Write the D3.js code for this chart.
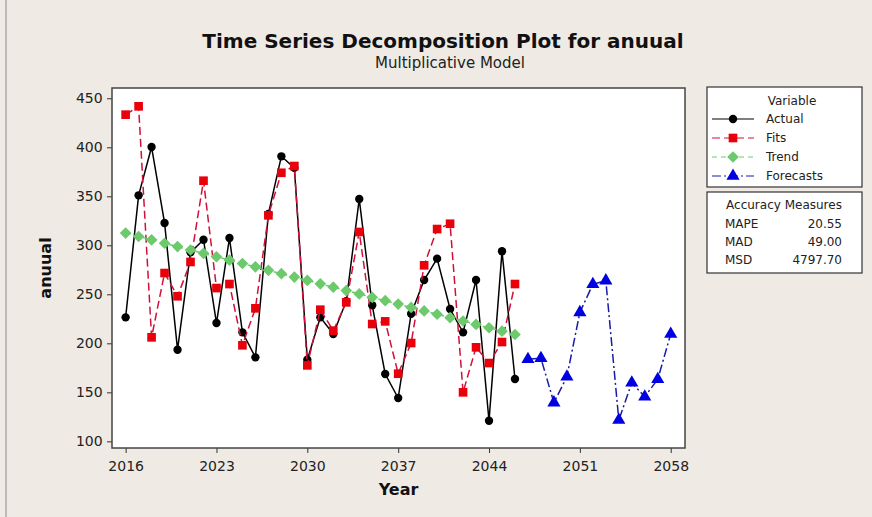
<!DOCTYPE html>
<html>
<head>
<meta charset="utf-8">
<script src="https://cdn.jsdelivr.net/npm/d3@7"></script>
<style>
  body { margin: 0; background: #efebe4; }
  text { font-family: "DejaVu Sans", Verdana, sans-serif; }
</style>
</head>
<body>
<div class="chart"></div>
<script>
// data
var years = d3.range(2016, 2047);
var forecastYears = d3.range(2047, 2059);

var actual = [226.5, 351, 400.3, 322.8, 193.5, 292.8, 305.7, 220.7, 307.4, 211.2,
  185.7, 332, 390.8, 379, 183.3, 226.5, 209.5, 243, 347.2, 238.8,
  168.7, 144.2, 230.2, 264.6, 286.4, 235, 211.2, 264.6, 121, 293.9, 163.6];

var fits = [433.3, 441.8, 206.1, 271.7, 248, 283, 365.9, 256.4, 260.5, 198,
  235.7, 330.6, 374, 380.9, 177.5, 234.3, 212.9, 241.8, 313.6, 219.7,
  222.4, 169, 200.3, 279.6, 316.6, 322, 150, 195.9, 179.9, 201.3, 260.5];

var trend = [312.5, 309.0, 305.6, 302.1, 298.7, 295.2, 291.8, 288.3, 284.9, 281.4,
  278.0, 274.5, 271.1, 267.6, 264.2, 260.7, 257.3, 253.8, 250.4, 246.9,
  243.5, 240.0, 236.6, 233.1, 229.7, 226.2, 222.8, 219.3, 215.9, 212.4, 209.0];

var forecasts = [183.7, 184.7, 139.4, 165.9, 231.6, 260.2, 263.9, 121.7, 159.8, 145.5, 163.3, 209.5];

var xTicks = [2016, 2023, 2030, 2037, 2044, 2051, 2058];
var yTicks = [100, 150, 200, 250, 300, 350, 400, 450];

var accuracyLabels = ["MAPE", "MAD", "MSD"];
var accuracyValues = ["20.55", "49.00", "4797.70"];

var svgWidth = 872;
var svgHeight = 517;

var margin = { top: 88, right: 187, bottom: 69, left: 112 };
var width = svgWidth - margin.left - margin.right;
var height = svgHeight - margin.top - margin.bottom;

var svg = d3.select(".chart")
  .append("svg")
  .attr("width", svgWidth)
  .attr("height", svgHeight);

// outer frame line on the left
svg.append("line")
  .attr("x1", 6).attr("x2", 6)
  .attr("y1", 0).attr("y2", svgHeight)
  .attr("stroke", "#8a8a8a")
  .attr("stroke-width", 1);

// titles
svg.append("text")
  .attr("x", 443).attr("y", 48)
  .attr("text-anchor", "middle")
  .attr("font-size", 20)
  .attr("font-weight", "bold")
  .attr("fill", "#111")
  .text("Time Series Decomposition Plot for anuual");

svg.append("text")
  .attr("x", 450).attr("y", 68)
  .attr("text-anchor", "middle")
  .attr("font-size", 15)
  .attr("fill", "#222")
  .text("Multiplicative Model");

var chartGroup = svg.append("g")
  .attr("transform", `translate(${margin.left}, ${margin.top})`);

// scales
var xScale = d3.scaleLinear()
  .domain([2014.95, 2059.1])
  .range([0, width]);

var yScale = d3.scaleLinear()
  .domain([93.2, 460.5])
  .range([height, 0]);

// plot background
chartGroup.append("rect")
  .attr("width", width)
  .attr("height", height)
  .attr("fill", "white");

// axes
var bottomAxis = d3.axisBottom(xScale).tickValues(xTicks).tickFormat(d3.format("d")).tickSize(5).tickSizeOuter(0);
var leftAxis = d3.axisLeft(yScale).tickValues(yTicks).tickSize(5).tickSizeOuter(0);

var xAxis = chartGroup.append("g")
  .attr("transform", `translate(0, ${height})`)
  .call(bottomAxis);

var yAxis = chartGroup.append("g").call(leftAxis);

[xAxis, yAxis].forEach(function(ax) {
  ax.select(".domain").remove();
  ax.selectAll("line").attr("stroke", "#333");
  ax.selectAll("text")
    .attr("font-size", 14)
    .attr("fill", "#222")
    .attr("font-family", "DejaVu Sans, Verdana, sans-serif");
});
xAxis.selectAll("text").attr("dy", "1.05em");
yAxis.selectAll("text").attr("dx", "-0.1em");

// axis titles
svg.append("text")
  .attr("transform", `translate(${margin.left + width / 2}, 495)`)
  .attr("text-anchor", "middle")
  .attr("font-size", 16)
  .attr("font-weight", "bold")
  .attr("fill", "#111")
  .text("Year");

svg.append("text")
  .attr("transform", `translate(51, ${margin.top + height / 2}) rotate(-90)`)
  .attr("text-anchor", "middle")
  .attr("font-size", 16)
  .attr("font-weight", "bold")
  .attr("fill", "#111")
  .text("anuual");

// series (diamond = square turned 45 degrees)
var seriesList = [
  { name: "Actual", x: years, y: actual, stroke: "#000", fill: "#000", dash: null, symbol: d3.symbolCircle, size: 55, rot: 0 },
  { name: "Fits", x: years, y: fits, stroke: "#d0103a", fill: "#e8000b", dash: "8,4", symbol: d3.symbolSquare, size: 75, rot: 0 },
  { name: "Trend", x: years, y: trend, stroke: "#6cc96c", fill: "#6cc96c", dash: "5,4", symbol: d3.symbolSquare, size: 68, rot: 45 },
  { name: "Forecasts", x: forecastYears, y: forecasts, stroke: "#1a1aa8", fill: "#0000e0", dash: "9,3,2,3", symbol: d3.symbolTriangle, size: 75, rot: 0 }
];

var line = d3.line()
  .x(d => xScale(d[0]))
  .y(d => yScale(d[1]));

seriesList.forEach(function(s) {
  var pts = s.x.map((yr, i) => [yr, s.y[i]]);
  var g = chartGroup.append("g");

  g.append("path")
    .datum(pts)
    .attr("d", line)
    .attr("fill", "none")
    .attr("stroke", s.stroke)
    .attr("stroke-width", 1.5)
    .attr("stroke-dasharray", s.dash);

  g.selectAll("path.mark")
    .data(pts)
    .enter()
    .append("path")
    .attr("class", "mark")
    .attr("d", d3.symbol().type(s.symbol).size(s.size))
    .attr("transform", d => `translate(${xScale(d[0])}, ${yScale(d[1])}) rotate(${s.rot})`)
    .attr("fill", s.fill);
});

// plot border
chartGroup.append("rect")
  .attr("width", width)
  .attr("height", height)
  .attr("fill", "none")
  .attr("stroke", "#444")
  .attr("stroke-width", 1.5);

// legend box
var legend = svg.append("g").attr("transform", "translate(707, 87)");

legend.append("rect")
  .attr("width", 155).attr("height", 100)
  .attr("fill", "white")
  .attr("stroke", "#333")
  .attr("stroke-width", 1.2);

legend.append("text")
  .attr("x", 85).attr("y", 18)
  .attr("text-anchor", "middle")
  .attr("font-size", 12)
  .attr("fill", "#222")
  .text("Variable");

seriesList.forEach(function(s, i) {
  var yy = 32 + i * 19;
  legend.append("line")
    .attr("x1", 5).attr("x2", 47)
    .attr("y1", yy).attr("y2", yy)
    .attr("stroke", s.stroke)
    .attr("stroke-width", 1.2)
    .attr("stroke-dasharray", s.dash);
  legend.append("path")
    .attr("d", d3.symbol().type(s.symbol).size(s.size))
    .attr("transform", `translate(26, ${yy}) rotate(${s.rot})`)
    .attr("fill", s.fill);
  legend.append("text")
    .attr("x", 59).attr("y", yy + 4)
    .attr("font-size", 12)
    .attr("fill", "#222")
    .text(s.name);
});

// accuracy measures box
var acc = svg.append("g").attr("transform", "translate(707, 192)");

acc.append("rect")
  .attr("width", 155).attr("height", 81)
  .attr("fill", "white")
  .attr("stroke", "#333")
  .attr("stroke-width", 1.2);

acc.append("text")
  .attr("x", 77).attr("y", 17)
  .attr("text-anchor", "middle")
  .attr("font-size", 12)
  .attr("fill", "#222")
  .text("Accuracy Measures");

accuracyLabels.forEach(function(lab, i) {
  acc.append("text")
    .attr("x", 18).attr("y", 36 + i * 18)
    .attr("font-size", 12)
    .attr("fill", "#222")
    .text(lab);
  acc.append("text")
    .attr("x", 135).attr("y", 36 + i * 18)
    .attr("text-anchor", "end")
    .attr("font-size", 12)
    .attr("fill", "#222")
    .text(accuracyValues[i]);
});
</script>
</body>
</html>
